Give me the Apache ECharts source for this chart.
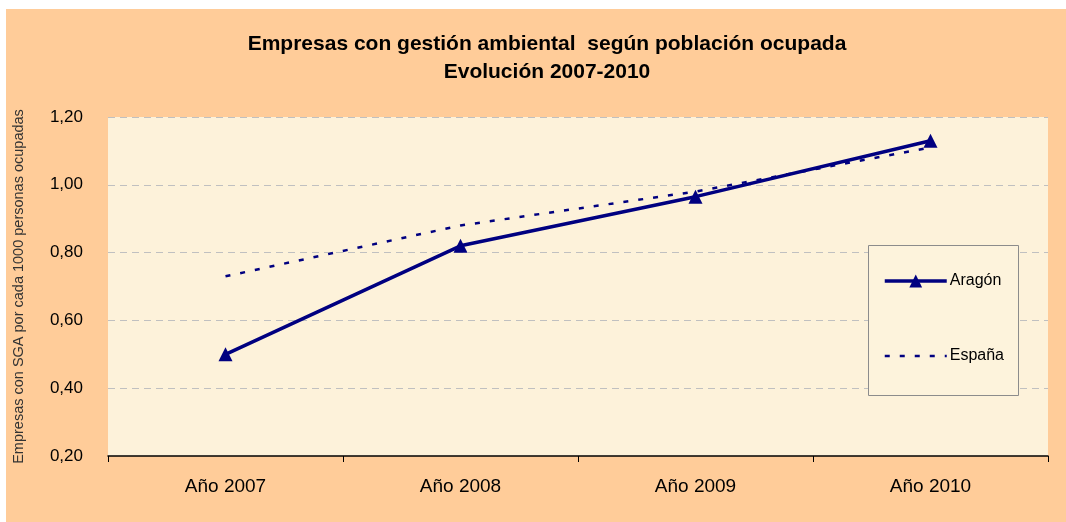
<!DOCTYPE html>
<html>
<head>
<meta charset="utf-8">
<script src="https://cdn.jsdelivr.net/npm/echarts@6/dist/echarts.min.js"></script>
<style>
  html, body { margin: 0; padding: 0; background: #ffffff; }
  #chart { margin-left: 6px; margin-top: 9px; width: 1060px; height: 513px; background: #FFCC99; }
</style>
</head>
<body>
<div id="chart"></div>
<script>
// datos
const years = ['Año 2007', 'Año 2008', 'Año 2009', 'Año 2010'];
const aragon = [0.50, 0.82, 0.965, 1.13];
const espana = [0.73, 0.88, 0.98, 1.11];
const yTicks = [0.2, 0.4, 0.6, 0.8, 1.0, 1.2];

const navy = '#000080';
const font = 'Liberation Sans, Arial, sans-serif';

const myChart = echarts.init(document.getElementById('chart'));

const option = {
  animation: false,
  title: {
    text: 'Empresas con gestión ambiental  según población ocupada\nEvolución 2007-2010',
    left: 536,
    top: 16,
    textAlign: 'center',
    textStyle: {
      fontFamily: font,
      fontSize: 21,
      fontWeight: 'bold',
      color: '#000',
      lineHeight: 28
    }
  },
  graphic: [
    {
      type: 'rect',
      left: 862,
      top: 236,
      z: 10,
      shape: { width: 150, height: 150 },
      style: { fill: '#FDF3DC', stroke: '#8c8c8c', lineWidth: 1 }
    }
  ],
  legend: {
    orient: 'vertical',
    left: 877,
    top: 264,
    z: 20,
    padding: 0,
    itemWidth: 62,
    itemHeight: 16,
    itemGap: 59,
    textStyle: { fontFamily: font, fontSize: 16, color: '#000', padding: [0, 0, 0, -2] },
    data: [
      { name: 'Aragón', lineStyle: { width: 3.5 } },
      { name: 'España', itemStyle: { opacity: 0 }, lineStyle: { width: 2.5, type: [5, 10] } }
    ]
  },
  grid: {
    left: 102,
    right: 18,
    top: 108,
    bottom: 66,
    outerBoundsMode: 'none',
    show: true,
    backgroundColor: '#FDF2DA',
    borderWidth: 0
  },
  xAxis: {
    type: 'category',
    data: years,
    boundaryGap: true,
    axisLine: { lineStyle: { color: '#000', width: 1.5 } },
    axisTick: { show: true, length: 6, lineStyle: { color: '#000' } },
    axisLabel: { fontFamily: font, fontSize: 19, color: '#000', margin: 21 }
  },
  yAxis: {
    type: 'value',
    min: yTicks[0],
    max: yTicks[yTicks.length - 1],
    interval: 0.2,
    name: 'Empresas con SGA por cada 1000 personas ocupadas',
    nameLocation: 'middle',
    nameGap: 82,
    nameTextStyle: { fontFamily: font, fontSize: 14.5, color: '#333' },
    axisLine: { show: false },
    axisTick: { show: false },
    axisLabel: {
      fontFamily: font,
      fontSize: 17,
      color: '#000',
      margin: 25,
      formatter: function (value) {
        return value.toFixed(2).replace('.', ',');
      }
    },
    splitLine: {
      show: true,
      showMinLine: false,
      lineStyle: { color: '#c0c0c0', type: [7, 5], width: 1 }
    }
  },
  series: [
    {
      name: 'Aragón',
      type: 'line',
      data: aragon,
      symbol: 'triangle',
      symbolSize: 14,
      lineStyle: { color: navy, width: 3.5 },
      itemStyle: { color: navy },
      z: 3
    },
    {
      name: 'España',
      type: 'line',
      data: espana,
      symbol: 'none',
      lineStyle: { color: navy, width: 2.5, type: [5, 10] },
      itemStyle: { color: navy },
      z: 2
    }
  ]
};

myChart.setOption(option);
</script>
</body>
</html>
